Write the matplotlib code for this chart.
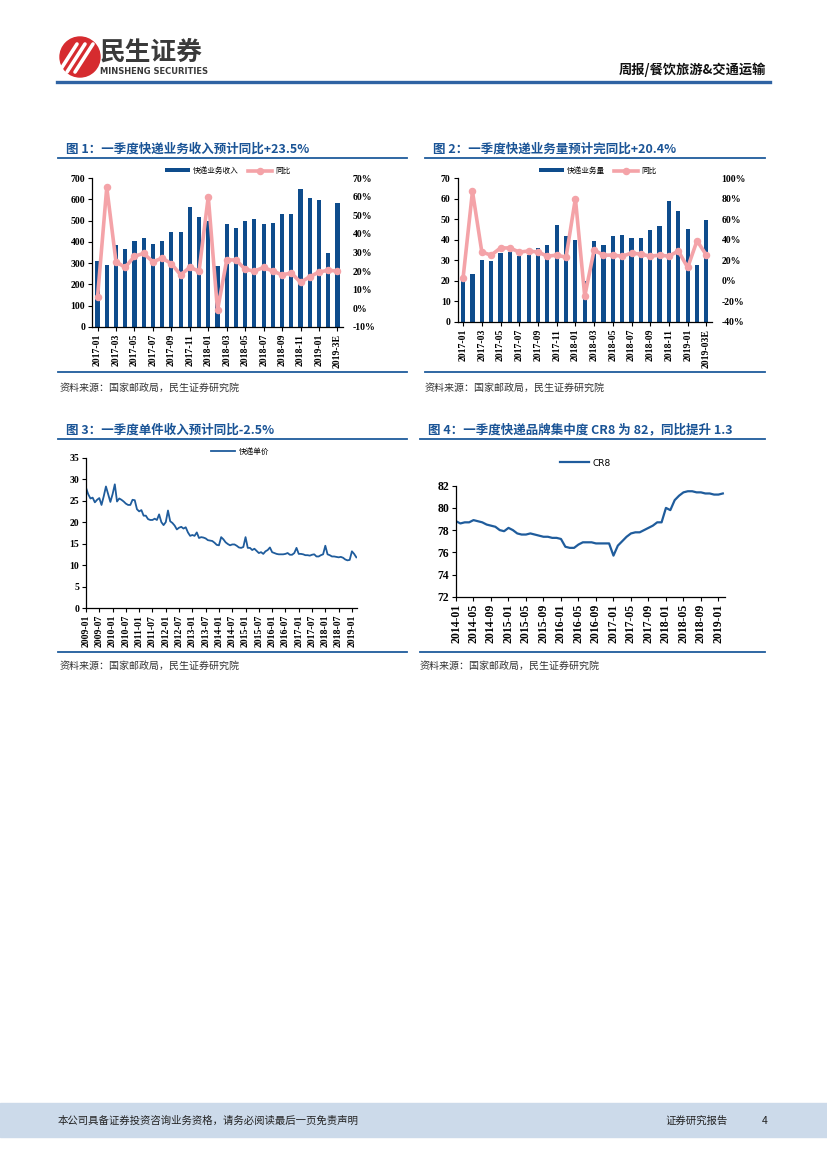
import matplotlib
matplotlib.use("Agg")
import matplotlib.pyplot as plt
import numpy as np
from matplotlib.patches import Circle, Rectangle
from matplotlib.lines import Line2D

W, H = 827, 1169
NAVY = "#0E4C8C"
PINK = "#F4A3A8"
LINE_BLUE = "#1F5C9C"
TITLE_BLUE = "#1A5496"
SERIF = ["Liberation Serif", "Noto Sans CJK SC"]
CJK = ["Noto Sans CJK SC", "DejaVu Sans"]

# ---- data: figure 1 & 2 (monthly, 2017-01 .. 2019-03E)
months_17 = [f"{y}-{m:02d}" for y in (2017, 2018) for m in range(1, 13)] + ["2019-01", "2019-02", "2019-03"]
ticks_fig1 = months_17[::2][:-1] + ["2019-3E"]
ticks_fig2 = months_17[::2][:-1] + ["2019-03E"]

revenue = [310, 293, 383, 368, 406, 418, 391, 403, 447, 445, 563, 518,
           497, 288, 485, 467, 496, 506, 482, 487, 532, 533, 646, 608,
           595, 349, 582]
revenue_yoy = [6, 65, 25, 22, 28, 29.5, 25, 27, 24, 18, 22, 20,
               60, -1, 26, 26, 21, 20, 22, 20, 18, 19, 14, 17,
               19.5, 20.5, 20]

volume = [21, 23.3, 30.3, 29.7, 33.3, 34, 32, 32.6, 35.9, 37.3, 47, 42,
          40, 19.8, 39.4, 37.3, 41.7, 42.2, 40.6, 41, 44.6, 46.8, 58.6, 54,
          45.2, 27.5, 49.5]
volume_yoy = [3, 87, 28, 25, 32, 32, 28, 29, 28, 24, 25, 23,
              80, -15, 30, 25, 25, 24, 27, 26, 24, 25, 24, 29,
              13, 39, 25]

# ---- data: figure 3 (unit price, 2009-01 .. 2019-03)
unit_price = [
    28, 26.5, 25.5, 25.7, 24.6, 25.2, 25.6, 24, 26, 28.3, 26.5, 24.7,
    26.5, 28.8, 24.8, 25.5, 25.2, 24.8, 24.3, 24, 24, 25.2, 25.1, 23,
    22.5, 22.8, 21.5, 21.5, 20.7, 20.5, 20.5, 20.8, 20.5, 21.8, 20, 19.3,
    20, 22.7, 20.2, 19.8, 19.2, 18.3, 18.7, 18.9, 18.5, 18.8, 17.6, 16.8,
    17, 16.8, 17.6, 16.3, 16.5, 16.4, 16.2, 15.8, 15.7, 15.6, 15.2, 14.7,
    14.6, 16.5, 16, 15.3, 14.9, 14.6, 14.8, 14.8, 14.5, 14.1, 14, 14.2,
    16.5, 14, 14, 13.5, 13.8, 13.3, 12.8, 13, 12.6, 13.2, 13.5, 14.1,
    13, 12.8, 12.6, 12.5, 12.5, 12.5, 12.6, 12.8, 12.4, 12.4, 12.8, 14,
    12.6, 12.6, 12.5, 12.3, 12.3, 12.2, 12.4, 12.5, 12, 12, 12.3, 12.5,
    14.5, 12.5, 12.3, 12, 12, 11.9, 11.8, 11.9, 11.7, 11.3, 11.1, 11.2,
    13.2, 12.6, 11.8,
]
ticks_fig3 = [f"{y}-{m:02d}" for y in range(2009, 2020) for m in (1, 7)][:-1]

# ---- data: figure 4 (CR8, 2014-01 .. 2019-02)
cr8 = [
    78.8, 78.6, 78.7, 78.7, 78.9, 78.8, 78.7, 78.5, 78.4, 78.3, 78.0, 77.9,
    78.2, 78.0, 77.7, 77.6, 77.6, 77.7, 77.6, 77.5, 77.4, 77.4, 77.3, 77.3,
    77.2, 76.5, 76.4, 76.4, 76.7, 76.9, 76.9, 76.9, 76.8, 76.8, 76.8, 76.8,
    75.7, 76.6, 77.0, 77.4, 77.7, 77.8, 77.8, 78.0, 78.2, 78.4, 78.7, 78.7,
    80.0, 79.8, 80.7, 81.1, 81.4, 81.5, 81.5, 81.4, 81.4, 81.3, 81.3, 81.2,
    81.2, 81.3,
]
ticks_fig4 = [f"{y}-{m:02d}" for y in range(2014, 2020) for m in (1, 5, 9)][:-2]

fig = plt.figure(figsize=(W / 100, H / 100), dpi=100)
bg = fig.add_axes([0, 0, 1, 1], zorder=-5)
bg.set_xlim(0, W)
bg.set_ylim(H, 0)
bg.axis("off")


def add_ax(left, top, right, bottom):
    return fig.add_axes([left / W, 1 - bottom / H, (right - left) / W, (bottom - top) / H])


def style_ax(ax, fs):
    ax.spines["top"].set_visible(False)
    ax.spines["right"].set_visible(False)
    for s in ("left", "bottom"):
        ax.spines[s].set_linewidth(0.9)
    ax.tick_params(axis="both", direction="out", length=3, width=0.8, labelsize=fs, pad=2)
    for lab in ax.get_xticklabels() + ax.get_yticklabels():
        lab.set_family(SERIF)
        lab.set_fontweight("bold")


def frame(x0, x1, title, y_title, y_bottom, source_x, source_y):
    bg.text(x0 + 8, y_title, title, fontsize=9, fontweight="bold", color=TITLE_BLUE,
            family=CJK, va="center", ha="left")
    bg.plot([x0, x1], [y_title + 9, y_title + 9], color=LINE_BLUE, lw=1.3)
    bg.plot([x0, x1], [y_bottom, y_bottom], color=LINE_BLUE, lw=1.3)
    bg.text(source_x, source_y, "资料来源：国家邮政局，民生证券研究院", fontsize=7.2,
            color="#333333", family=CJK, va="center", ha="left")


def bar_line_chart(box, bars, yoy, bar_name, ylim, yticks, y2lim, y2ticks, ticklabels, legend_x):
    ax = add_ax(*box)
    x = np.arange(len(bars))
    ax.bar(x, bars, width=0.45, color=NAVY, label=bar_name, zorder=2)
    ax.set_xlim(-0.6, len(bars) - 0.4)
    ax.set_ylim(*ylim)
    ax.set_yticks(yticks)
    ax.set_xticks(x[::2])
    ax.set_xticklabels(ticklabels, rotation=90)
    ax2 = ax.twinx()
    ax2.plot(x, yoy, color=PINK, lw=2.6, marker="o", ms=4.4, label="同比", zorder=3)
    ax2.set_ylim(*y2lim)
    ax2.set_yticks(y2ticks)
    ax2.set_yticklabels([f"{v}%" for v in y2ticks])
    for s in ax2.spines.values():
        s.set_visible(False)
    ax2.tick_params(axis="y", length=0, labelsize=7, pad=7)
    for lab in ax2.get_yticklabels():
        lab.set_family(SERIF)
        lab.set_fontweight("bold")
    style_ax(ax, 7)
    h1, l1 = ax.get_legend_handles_labels()
    h2, l2 = ax2.get_legend_handles_labels()
    fig.legend(h1 + h2, l1 + l2, loc="center", bbox_to_anchor=(legend_x / W, 1 - 171 / H),
               ncol=2, frameon=False, prop={"family": CJK, "size": 5.5},
               handlelength=3.2, handleheight=0.5, columnspacing=1.2, handletextpad=0.4)
    return ax


# ---- header
bg.add_patch(Circle((80, 57), 20, color="#D62B2F"))
for dx in (-9, -1, 7):
    ln = Line2D([dx + 68, dx + 86], [72, 44], color="white", lw=2.6, solid_capstyle="round")
    bg.add_line(ln)
bg.text(100, 52, "民生证券", fontsize=18.5, fontweight="bold", color="#3A3A3A", family=CJK,
        va="center", ha="left")
bg.text(100, 71, "MINSHENG SECURITIES", fontsize=6, fontweight="bold", color="#3A3A3A",
        family=["DejaVu Sans"], va="center", ha="left")
bg.text(766, 70, "周报/餐饮旅游&交通运输", fontsize=9.5, fontweight="bold", color="#111111",
        family=CJK, va="center", ha="right")
bg.plot([57, 770], [82, 82], color="#2F63A3", lw=2.4)

# ---- figure 1
frame(58, 407, "图 1：一季度快递业务收入预计同比+23.5%", 149, 372, 60, 388)
bar_line_chart((92, 178, 343, 327), revenue, revenue_yoy, "快递业务收入",
               (0, 700), range(0, 701, 100), (-10, 70), list(range(-10, 71, 10)),
               ticks_fig1, 228)

# ---- figure 2
frame(425, 765, "图 2：一季度快递业务量预计完同比+20.4%", 149, 372, 425, 388)
bar_line_chart((457.5, 178, 712, 322), volume, volume_yoy, "快递业务量",
               (0, 70), range(0, 71, 10), (-40, 100), list(range(-40, 101, 20)),
               ticks_fig2, 598)

# ---- figure 3
frame(58, 407, "图 3：一季度单件收入预计同比-2.5%", 430, 652, 60, 666)
ax3 = add_ax(86, 457.7, 357, 608)
ax3.plot(np.arange(len(unit_price)), unit_price, color=LINE_BLUE, lw=1.3, label="快递单价")
ax3.set_xlim(0, 122.3)
ax3.set_ylim(0, 35)
ax3.set_yticks(range(0, 36, 5))
ax3.set_xticks(np.arange(len(ticks_fig3)) * 6)
ax3.set_xticklabels(ticks_fig3, rotation=90)
style_ax(ax3, 7)
ax3.legend(loc="center", bbox_to_anchor=(240 / W, 1 - 452 / H), bbox_transform=fig.transFigure,
           frameon=False, prop={"family": CJK, "size": 5.5}, handlelength=3.2, handletextpad=0.4)

# ---- figure 4
frame(420, 765, "图 4：一季度快递品牌集中度 CR8 为 82，同比提升 1.3", 430, 652, 420, 666)
ax4 = add_ax(456, 485.7, 725, 596.7)
ax4.plot(np.arange(len(cr8)), cr8, color=LINE_BLUE, lw=1.6, label="CR8")
ax4.set_xlim(0, 61.5)
ax4.set_ylim(72, 82)
ax4.set_yticks(range(72, 83, 2))
ax4.set_xticks(np.arange(len(ticks_fig4)) * 4)
ax4.set_xticklabels(ticks_fig4, rotation=90)
style_ax(ax4, 8.5)
ax4.legend(loc="center", bbox_to_anchor=(585 / W, 1 - 463 / H), bbox_transform=fig.transFigure,
           frameon=False, prop={"family": ["DejaVu Sans"], "size": 6.5}, handlelength=3.2,
           handletextpad=0.4)

# ---- footer
bg.add_patch(Rectangle((0, 1103), W, 34, color="#CCDAEA", zorder=0))
bg.text(58, 1121, "本公司具备证券投资咨询业务资格，请务必阅读最后一页免责声明", fontsize=7.5,
        color="#222222", family=CJK, va="center", ha="left")
bg.text(665, 1121, "证券研究报告", fontsize=7.5, color="#222222", family=CJK, va="center", ha="left")
bg.text(765, 1121, "4", fontsize=7.5, color="#222222", family=CJK, va="center", ha="center")

fig.savefig("out.png", dpi=100, facecolor="white")
